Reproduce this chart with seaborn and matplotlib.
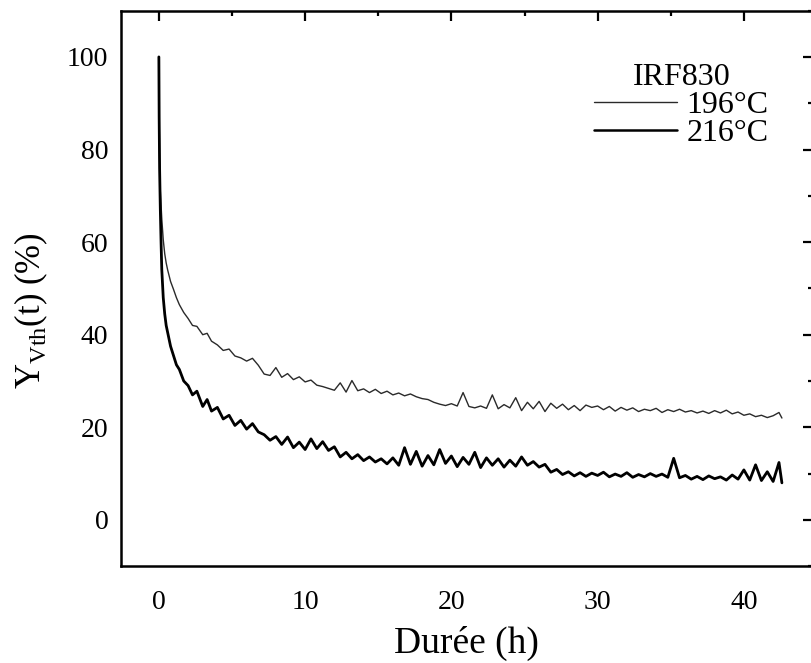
import matplotlib
matplotlib.use('Agg')
import matplotlib.pyplot as plt
from matplotlib.ticker import MultipleLocator
import seaborn as sns

# Y_Vth(t) relaxation curves for IRF830 at two temperatures
hours = [0, 0.02, 0.05, 0.1, 0.15, 0.2, 0.3, 0.4, 0.5, 0.6, 0.8, 1.0, 1.2, 1.4, 1.7, 2.0, 2.3, 2.6, 3.0, 3.3, 3.6,
         4.0, 4.4, 4.8, 5.2, 5.6, 6.0, 6.4, 6.8, 7.2, 7.6,
         8.0, 8.4, 8.8, 9.2, 9.6, 10.0, 10.4, 10.8, 11.2, 11.6,
         12.0, 12.4, 12.8, 13.2, 13.6, 14.0, 14.4, 14.8, 15.2, 15.6,
         16.0, 16.4, 16.8, 17.2, 17.6, 18.0, 18.4, 18.8, 19.2, 19.6,
         20.0, 20.4, 20.8, 21.2, 21.6, 22.0, 22.4, 22.8, 23.2, 23.6,
         24.0, 24.4, 24.8, 25.2, 25.6, 26.0, 26.4, 26.8, 27.2, 27.6,
         28.0, 28.4, 28.8, 29.2, 29.6, 30.0, 30.4, 30.8, 31.2, 31.6,
         32.0, 32.4, 32.8, 33.2, 33.6, 34.0, 34.4, 34.8, 35.2, 35.6,
         36.0, 36.4, 36.8, 37.2, 37.6, 38.0, 38.4, 38.8, 39.2, 39.6,
         40.0, 40.4, 40.8, 41.2, 41.6, 42.0, 42.4, 42.6]

y_196 = [100, 88, 78, 71, 68, 65, 60.5, 57.5, 55.5, 54, 51.5, 49.8, 48, 46.5, 44.8, 43.5, 42.0, 41.8, 40.0, 40.3, 38.6,
         37.8, 36.6, 36.9, 35.4, 35.0, 34.3, 34.9, 33.4, 31.5, 31.2,
         32.9, 30.8, 31.6, 30.3, 30.9, 29.8, 30.2, 29.1, 28.8, 28.4,
         28.0, 29.6, 27.6, 30.1, 27.9, 28.3, 27.5, 28.2, 27.3, 27.8,
         27.0, 27.4, 26.8, 27.2, 26.6, 26.2, 26.0, 25.4, 25.0, 24.7,
         25.1, 24.6, 27.5, 24.5, 24.2, 24.6, 24.1, 27.0, 24.0, 24.9,
         24.2, 26.4, 23.6, 25.4, 24.0, 25.6, 23.4, 25.2, 24.1, 25.0,
         23.8, 24.7, 23.6, 24.8, 24.3, 24.6, 23.8, 24.5, 23.5, 24.3,
         23.7, 24.2, 23.4, 23.9, 23.6, 24.1, 23.2, 23.8, 23.4, 23.9,
         23.3, 23.6, 23.1, 23.5, 23.0, 23.6, 23.1, 23.7, 22.9, 23.3,
         22.6, 22.9, 22.3, 22.6, 22.1, 22.5, 23.2, 22.0]

y_216 = [100, 87, 76, 67, 60, 54, 48, 44.5, 42, 40.5, 37.5, 35.5, 33.5, 32.5, 30.0, 29.0, 27.0, 27.8, 24.5, 26.0, 23.5,
         24.3, 21.8, 22.6, 20.4, 21.5, 19.6, 20.8, 19.0, 18.4, 17.2,
         18.0, 16.3, 17.9, 15.6, 16.8, 15.2, 17.5, 15.4, 16.9, 15.0,
         15.8, 13.6, 14.6, 13.2, 14.1, 12.8, 13.6, 12.5, 13.2, 12.1,
         13.4, 11.8, 15.6, 12.0, 14.8, 11.6, 13.9, 11.9, 15.2, 12.2,
         13.8, 11.5, 13.5, 12.0, 14.6, 11.3, 13.4, 11.8, 13.2, 11.4,
         12.9, 11.6, 13.6, 11.8, 12.6, 11.4, 12.0, 10.3, 10.9, 9.8,
         10.4, 9.5, 10.2, 9.4, 10.1, 9.6, 10.3, 9.3, 9.9, 9.4,
         10.2, 9.2, 9.8, 9.3, 10.0, 9.4, 9.9, 9.2, 13.3, 9.1,
         9.6, 8.8, 9.4, 8.7, 9.5, 8.9, 9.3, 8.6, 9.7, 8.8,
         10.8, 8.6, 11.9, 8.5, 10.4, 8.3, 12.4, 8.0]

labels = ['196°C', '216°C']

sns.set_style('white')
plt.rcParams['font.family'] = ['Liberation Serif', 'DejaVu Serif']
plt.rcParams['mathtext.fontset'] = 'custom'
plt.rcParams['mathtext.rm'] = 'Liberation Serif'
plt.rcParams['text.color'] = 'black'
plt.rcParams['axes.labelcolor'] = 'black'

fig = plt.figure(figsize=(8.11, 6.63), dpi=100)
ax = fig.add_axes([0.149, 0.146, 0.853, 0.838])

sns.lineplot(x=hours, y=y_196, ax=ax, color='#2a2a2a', linewidth=1.0, label=labels[0])
sns.lineplot(x=hours, y=y_216, ax=ax, color='black', linewidth=2.0, label=labels[1])

ax.set_xlim(-2.6, 44.7)
ax.set_ylim(-10, 110)
ax.xaxis.set_major_locator(MultipleLocator(10))
ax.xaxis.set_minor_locator(MultipleLocator(5))
ax.yaxis.set_major_locator(MultipleLocator(20))
ax.yaxis.set_minor_locator(MultipleLocator(10))
ax.tick_params(which='both', direction='in', top=True, right=True, width=1.6, colors='black')
ax.tick_params(which='major', length=7)
ax.tick_params(which='minor', length=3.5)
ax.tick_params(axis='x', which='major', labelsize=20, pad=17)
ax.tick_params(axis='y', which='major', labelsize=20, pad=9)
for s in ax.spines.values():
    s.set_linewidth(1.8)
    s.set_color('black')

ax.set_xlabel('Durée (h)', fontsize=27, labelpad=8)
ax.set_ylabel(r'Y$_{\mathrm{Vth}}$(t) (%)', fontsize=25)
ax.yaxis.set_label_coords(-0.102, 0.46)

leg = ax.legend(title='IRF830', loc='upper right', bbox_to_anchor=(0.936, 0.905), frameon=False,
                fontsize=23, title_fontsize=23, handlelength=2.6, handletextpad=0.28,
                labelspacing=-0.05, borderaxespad=0, borderpad=0)
leg.get_lines()[0].set_linewidth(1.0)
leg.get_lines()[1].set_linewidth(1.8)

fig.savefig('out.png', dpi=100)
